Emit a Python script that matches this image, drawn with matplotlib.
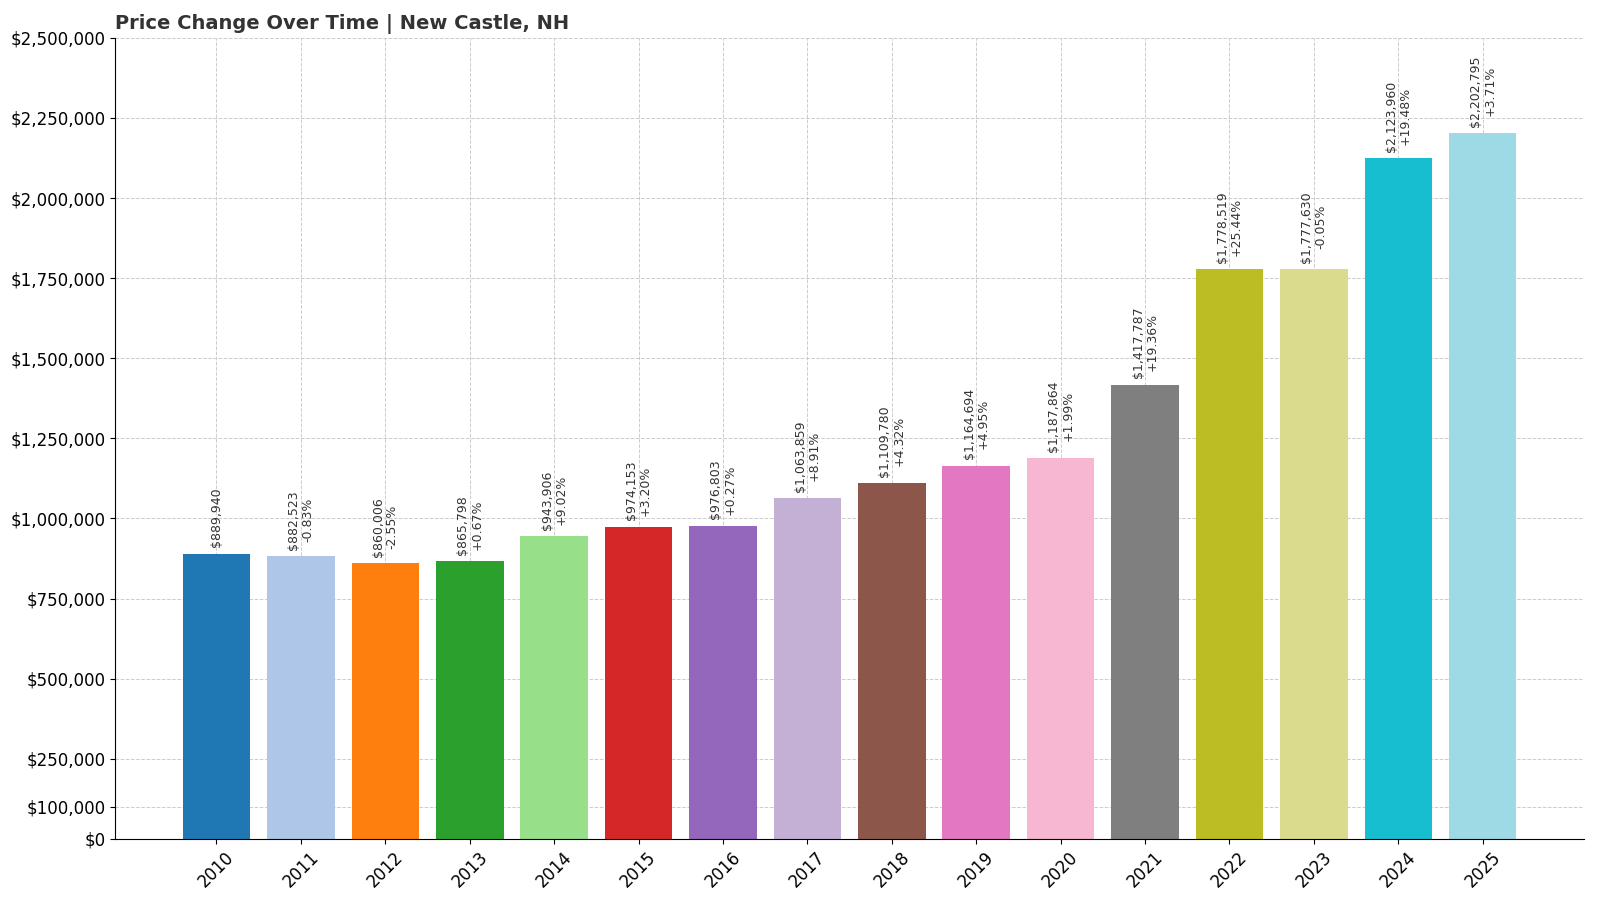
import matplotlib.pyplot as plt
import numpy as np

years = list(range(2010, 2026))
prices = [889940, 882523, 860006, 865798, 943906, 974153, 976803, 1063859,
          1109780, 1164694, 1187864, 1417787, 1778519, 1777630, 2123960, 2202795]
changes = [None, -0.83, -2.55, 0.67, 9.02, 3.20, 0.27, 8.91,
           4.32, 4.95, 1.99, 19.36, 25.44, -0.05, 19.48, 3.71]
yticks = [0, 100000, 250000, 500000, 750000, 1000000, 1250000, 1500000,
          1750000, 2000000, 2250000, 2500000]

colors = plt.cm.tab20(np.linspace(0, 1, len(years)))

fig = plt.figure(figsize=(16, 9), dpi=100)
ax = fig.add_axes([0.072, 0.068, 0.918, 0.89])

ax.bar(years, prices, width=0.8, color=colors, zorder=2)

for y, p, c in zip(years, prices, changes):
    txt = f"${p:,.0f}" if c is None else f"${p:,.0f}\n{c:+.2f}%"
    ax.text(y, p + 20000, txt, rotation=90, ha='center', va='bottom',
            fontsize=9, color='#333333', linespacing=1.1)

ax.set_xlim(2008.8, 2026.2)
ax.set_ylim(0, 2500000)
ax.set_xticks(years)
ax.set_xticklabels([str(y) for y in years], rotation=45, fontsize=12)
ax.set_yticks(yticks)
ax.set_yticklabels([f"${v:,.0f}" for v in yticks], fontsize=12)
ax.grid(True, linestyle='--', color='#cccccc', linewidth=0.7, zorder=0)
ax.set_axisbelow(True)
ax.spines['top'].set_visible(False)
ax.spines['right'].set_visible(False)
ax.set_title('Price Change Over Time | New Castle, NH', loc='left',
             fontsize=14, fontweight='bold', color='#333333')

fig.savefig('out.png')
